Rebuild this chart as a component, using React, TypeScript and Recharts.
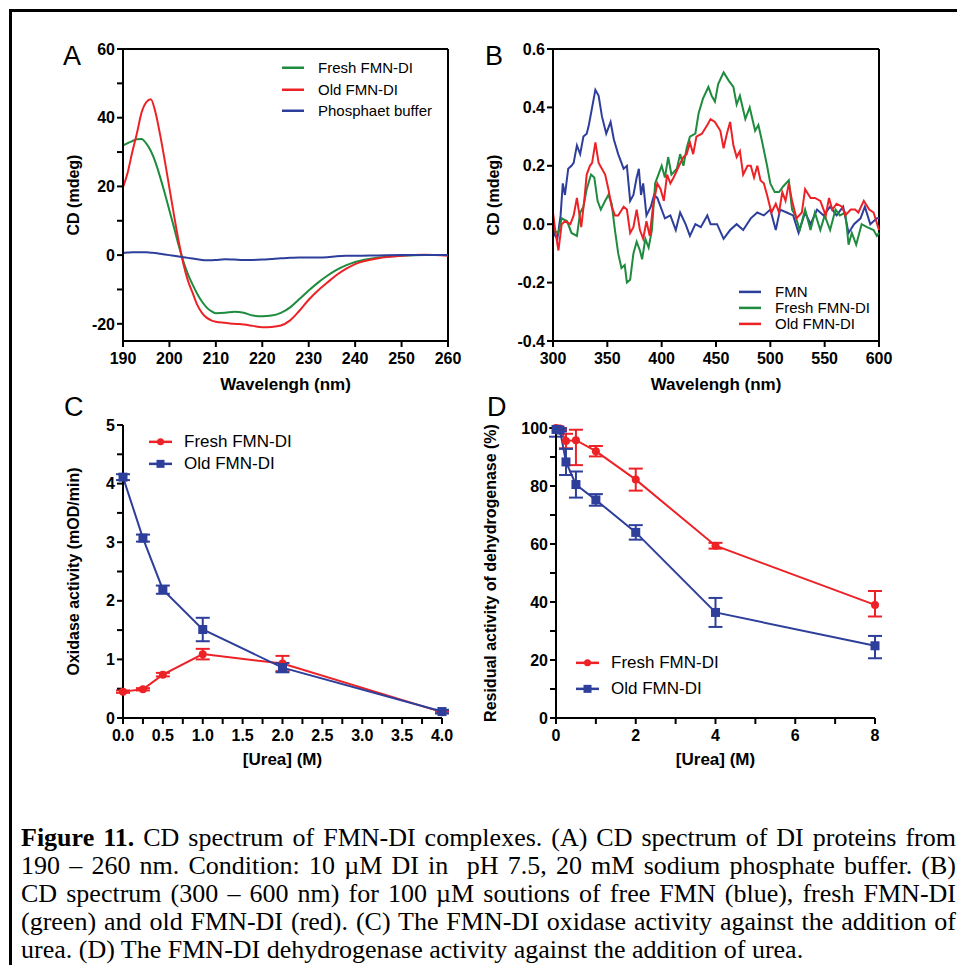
import React from 'react';
import { LineChart, Line, XAxis, YAxis, Legend, ReferenceLine, ErrorBar } from 'recharts';

const SANS = '"Liberation Sans", Arial, Helvetica, sans-serif';
const SERIF = '"Liberation Serif", "Times New Roman", serif';

const GREEN = '#1f8b3e';
const RED = '#ec2227';
const BLUE = '#2d3e9b';

// ---- panel A: far-UV CD (190-260 nm) ----
const wlA = [190, 191, 192, 193, 194, 195, 196, 197, 198, 199, 200, 201, 202, 203, 204, 205, 206, 207, 208, 209, 210,
  212, 214, 216, 218, 220, 222, 224, 226, 228, 230, 232, 234, 236, 238, 240, 245, 250, 255, 260];
const freshA = [31.9, 32.6, 33.2, 33.7, 33.8, 32.5, 30.3, 27.0, 22.7, 18.0, 13.0, 8.0, 2.8, -1.8, -5.6, -8.6, -11.3, -13.5, -15.2, -16.3, -16.9,
  -16.8, -16.5, -16.8, -17.6, -17.8, -17.6, -16.8, -15.2, -12.8, -10.3, -8.0, -6.0, -4.3, -3.0, -2.0, -0.7, -0.2, 0, 0];
const oldA = [19.8, 24.0, 30.0, 35.5, 41.5, 44.5, 45.4, 41.5, 35.0, 27.5, 19.5, 11.5, 4.0, -2.5, -7.5, -11.0, -14.5, -16.8, -18.2, -19.0, -19.4,
  -19.7, -20.0, -20.2, -20.6, -21.0, -20.9, -20.5, -19.0, -16.2, -13.0, -10.3, -8.0, -5.8, -4.0, -2.6, -0.9, -0.2, 0.1, -0.2];
const bufferA = [0.7, 0.75, 0.8, 0.8, 0.8, 0.8, 0.7, 0.6, 0.4, 0.2, 0, -0.2, -0.4, -0.6, -0.8, -1.0, -1.2, -1.4, -1.5, -1.5, -1.4,
  -1.2, -1.3, -1.4, -1.4, -1.3, -1.1, -0.9, -0.8, -0.7, -0.7, -0.7, -0.6, -0.3, -0.2, -0.2, -0.1, 0, 0, 0];
const xTicksA = [190, 200, 210, 220, 230, 240, 250, 260];
const yTicksA = [-20, -10, 0, 10, 20, 30, 40, 50, 60];

// ---- panel B: visible CD (300-600 nm) ----
const wlFmnB = [300, 302, 304, 307, 309, 311, 314, 317, 319, 322, 325, 328, 331, 333, 336, 339, 342, 345, 349, 353, 356, 360, 365, 368,
  371, 374, 377, 379, 381, 383, 386, 390, 393, 396, 400, 403, 408, 413, 417, 422, 426, 431, 436, 442, 445, 451, 457, 463, 469, 475,
  482, 488, 494, 500, 505, 509, 515, 521, 526, 532, 537, 543, 549, 555, 561, 567, 572, 577, 583, 587, 592, 598, 600];
const cdFmnB = [-0.02, -0.04, -0.05, 0.03, 0.14, 0.10, 0.19, 0.20, 0.21, 0.27, 0.24, 0.30, 0.31, 0.34, 0.40, 0.46, 0.44, 0.37, 0.31, 0.35,
  0.29, 0.24, 0.19, 0.20, 0.08, 0.10, 0.16, 0.19, 0.10, 0.14, 0.03, 0.06, 0.10, 0.09, 0.05, 0.02, 0.03, -0.02, 0.04, 0.00, -0.04, 0.00,
  -0.01, 0.03, 0.00, 0.00, -0.05, -0.02, 0.00, -0.02, 0.02, 0.04, 0.03, 0.05, -0.02, 0.05, 0.04, 0.03, -0.03, 0.04, 0.00, 0.05, 0.03,
  0.06, 0.03, 0.06, -0.03, 0.00, 0.02, 0.06, 0.00, 0.02, 0.02];
const wlFreshB = [300, 305, 308, 313, 317, 322, 325, 328, 331, 335, 338, 341, 344, 348, 351, 354, 357, 360, 363, 366, 368, 371, 374, 377,
  380, 382, 385, 388, 391, 394, 397, 400, 403, 406, 409, 414, 417, 420, 423, 426, 431, 434, 438, 443, 446, 449, 452, 457, 462, 466,
  469, 472, 477, 481, 486, 489, 492, 497, 500, 504, 508, 512, 517, 520, 523, 527, 532, 537, 541, 546, 550, 555, 560, 564, 569, 572,
  575, 579, 584, 589, 595, 598, 600];
const cdFreshB = [-0.02, -0.03, 0.02, 0.01, -0.03, -0.04, 0.04, 0.06, 0.12, 0.17, 0.16, 0.08, 0.05, 0.08, 0.10, 0.07, -0.02, -0.10, -0.15,
  -0.14, -0.20, -0.19, -0.10, -0.06, -0.09, -0.12, -0.05, -0.08, -0.02, 0.14, 0.17, 0.20, 0.16, 0.23, 0.17, 0.19, 0.24, 0.20, 0.26,
  0.30, 0.31, 0.38, 0.43, 0.47, 0.44, 0.42, 0.48, 0.52, 0.49, 0.47, 0.41, 0.44, 0.36, 0.40, 0.32, 0.34, 0.29, 0.20, 0.14, 0.11, 0.11,
  0.13, 0.15, 0.05, 0.03, -0.02, 0.05, -0.02, 0.04, -0.02, 0.03, -0.02, 0.05, 0.03, 0.04, -0.07, -0.03, -0.07, 0.00, -0.01, -0.02,
  -0.04, -0.03];
const wlOldB = [300, 302, 305, 308, 311, 316, 319, 322, 326, 329, 331, 334, 336, 339, 342, 345, 348, 351, 354, 357, 360, 365, 368, 371,
  374, 377, 380, 383, 386, 389, 392, 396, 399, 402, 405, 408, 411, 416, 420, 423, 426, 429, 432, 437, 442, 445, 449, 454, 457, 460,
  463, 466, 469, 472, 475, 479, 482, 485, 488, 491, 494, 497, 501, 505, 508, 511, 514, 517, 520, 524, 529, 532, 537, 541, 546, 551,
  554, 557, 561, 566, 569, 574, 578, 581, 586, 591, 595, 600];
const cdOldB = [0.04, -0.02, -0.09, 0.00, 0.01, 0.00, 0.03, 0.09, -0.01, 0.09, 0.17, 0.20, 0.21, 0.28, 0.21, 0.19, 0.17, 0.12, 0.06, 0.03,
  0.03, 0.06, 0.05, -0.03, -0.01, 0.05, -0.02, -0.05, 0.01, -0.04, 0.06, 0.14, 0.12, 0.08, 0.17, 0.14, 0.16, 0.20, 0.23, 0.24, 0.28,
  0.24, 0.30, 0.31, 0.34, 0.36, 0.35, 0.32, 0.26, 0.31, 0.35, 0.27, 0.23, 0.25, 0.17, 0.20, 0.20, 0.16, 0.20, 0.15, 0.14, 0.10, 0.04,
  0.07, 0.04, 0.11, 0.08, 0.14, 0.08, 0.02, 0.04, 0.12, 0.09, 0.09, 0.08, 0.03, 0.09, 0.05, 0.07, 0.06, 0.03, 0.05, 0.05, 0.04, 0.08,
  0.05, 0.04, -0.02];
const xTicksB = [300, 350, 400, 450, 500, 550, 600];
const yTicksB = [-0.4, -0.2, 0, 0.2, 0.4, 0.6];

// ---- panel C: oxidase activity vs urea ----
const ureaC = [0, 0.25, 0.5, 1, 2, 4];
const freshC = [0.45, 0.49, 0.74, 1.09, 0.93, 0.1];
const freshErrC = [0.02, 0.02, 0.03, 0.09, 0.13, 0.02];
const oldC = [4.11, 3.07, 2.19, 1.51, 0.86, 0.11];
const oldErrC = [0.05, 0.06, 0.07, 0.2, 0.08, 0.03];
const xTicksC = [0, 0.25, 0.5, 0.75, 1, 1.25, 1.5, 1.75, 2, 2.25, 2.5, 2.75, 3, 3.25, 3.5, 3.75, 4];
const yTicksC = [0, 0.5, 1, 1.5, 2, 2.5, 3, 3.5, 4, 4.5, 5];

// ---- panel D: residual dehydrogenase activity vs urea ----
const ureaD = [0, 0.1, 0.25, 0.5, 1, 2, 4, 8];
const freshD = [100, 99.8, 95.5, 95.8, 92.0, 82.2, 59.4, 39.0];
const freshErrD: [number, number][] = [[0, 0], [0.5, 0.2], [2.5, 2.5], [8.6, 3.6], [1.8, 1.8], [3.8, 3.8], [1, 1], [4, 4.8]];
const oldD = [99.5, 99.3, 88.3, 80.5, 75.2, 64.0, 36.4, 24.9];
const oldErrD: [number, number][] = [[2.5, 0.5], [0.5, 0.5], [4.5, 4.5], [4.5, 4.5], [2, 2], [2.5, 2.5], [5, 5], [4.3, 3.4]];
const xTicksD = [0, 1, 2, 3, 4, 5, 6, 7, 8];
const yTicksD = [0, 10, 20, 30, 40, 50, 60, 70, 80, 90, 100];

const captionLines: [string, string][] = [
  ['Figure 11.', ' CD spectrum of FMN-DI complexes. (A) CD spectrum of DI proteins from'],
  ['', '190 \u2013 260 nm. Condition: 10 \u00b5M DI in\u00a0 pH 7.5, 20 mM sodium phosphate buffer. (B)'],
  ['', 'CD spectrum (300 \u2013 600 nm) for 100 \u00b5M soutions of free FMN (blue), fresh FMN-DI'],
  ['', '(green) and old FMN-DI (red). (C) The FMN-DI oxidase activity against the addition of'],
  ['', 'urea. (D) The FMN-DI dehydrogenase activity against the addition of urea.'],
];

const zip = (xs: number[], ys: number[]) => xs.map((x, i) => ({ x, y: ys[i] }));

const dataA = wlA.map((x, i) => ({ x, fresh: freshA[i], old: oldA[i], buffer: bufferA[i] }));
const dataC = ureaC.map((x, i) => ({ x, fresh: freshC[i], freshErr: freshErrC[i], old: oldC[i], oldErr: oldErrC[i] }));
const dataD = ureaD.map((x, i) => ({ x, fresh: freshD[i], freshErr: freshErrD[i], old: oldD[i], oldErr: oldErrD[i] }));

const axisLine = { stroke: '#000', strokeWidth: 2 };
const tickLine = { stroke: '#000', strokeWidth: 2 };
const tickStyle = { fill: '#000', fontSize: 16, fontWeight: 700, fontFamily: SANS };

const yTitle = (text: string, cx: number) => (props: any) => {
  const vb = props.viewBox;
  const cy = vb.y + vb.height / 2;
  return (
    <text x={cx} y={cy} transform={`rotate(-90 ${cx} ${cy})`} textAnchor="middle" dominantBaseline="central"
      fontFamily={SANS} fontSize={16} fontWeight={700} fill="#000">{text}</text>
  );
};

const xTitle = (text: string, dy: number) => (props: any) => {
  const vb = props.viewBox;
  return (
    <text x={vb.x + vb.width / 2} y={vb.y + dy} textAnchor="middle"
      fontFamily={SANS} fontSize={17} fontWeight={700} fill="#000">{text}</text>
  );
};

const legendContent = (lineLen: number, gap: number, rowH: number, fontSize: number) => (props: any) => (
  <div style={{ fontFamily: SANS, fontSize, color: '#000' }}>
    {(props.payload || []).map((e: any) => (
      <div key={e.value} style={{ display: 'flex', alignItems: 'center', height: rowH }}>
        <svg width={lineLen + gap} height={rowH} style={{ display: 'block' }}>
          <line x1={0} x2={lineLen} y1={rowH / 2} y2={rowH / 2} stroke={e.color} strokeWidth={2.5} />
          {e.type === 'circle' && <circle cx={lineLen / 2} cy={rowH / 2} r={3.5} fill={e.color} />}
          {e.type === 'square' && <rect x={lineLen / 2 - 4} y={rowH / 2 - 4} width={8} height={8} fill={e.color} />}
        </svg>
        <span style={{ whiteSpace: 'nowrap', lineHeight: 1 }}>{e.value}</span>
      </div>
    ))}
  </div>
);

const squareDot = (props: any) => (
  <rect key={`sq-${props.index}`} x={props.cx - 4.5} y={props.cy - 4.5} width={9} height={9} fill={BLUE} />
);

function PanelA() {
  return (
    <LineChart width={480} height={400} data={dataA} margin={{ top: 49, right: 32, left: 0, bottom: 0 }}>
      <XAxis dataKey="x" type="number" domain={[190, 260]} ticks={xTicksA} height={59}
        axisLine={axisLine} tickLine={tickLine} tick={tickStyle} tickSize={6} tickMargin={6}
        label={xTitle('Wavelengh (nm)', 49)} />
      <YAxis type="number" domain={[-25, 60]} ticks={yTicksA} width={123}
        tickFormatter={(v: number) => (v % 20 === 0 ? String(v) : '')}
        axisLine={axisLine} tickLine={tickLine} tick={tickStyle} tickSize={6} tickMargin={2}
        label={yTitle('CD (mdeg)', 73)} />
      <ReferenceLine y={60} stroke="#000" strokeWidth={2} />
      <ReferenceLine x={260} stroke="#000" strokeWidth={2} />
      <Line dataKey="fresh" name="Fresh FMN-DI" type="monotone" stroke={GREEN} strokeWidth={2} dot={false}
        legendType="line" isAnimationActive={false} />
      <Line dataKey="old" name="Old FMN-DI" type="monotone" stroke={RED} strokeWidth={2} dot={false}
        legendType="line" isAnimationActive={false} />
      <Line dataKey="buffer" name="Phosphaet buffer" type="monotone" stroke={BLUE} strokeWidth={2} dot={false}
        legendType="line" isAnimationActive={false} />
      <Legend layout="vertical" align="center" verticalAlign="middle"
        wrapperStyle={{ left: 282, top: 57, width: 'auto' }} content={legendContent(22, 14, 21.5, 15)} />
    </LineChart>
  );
}

function PanelB() {
  return (
    <LineChart width={480} height={400} margin={{ top: 49, right: 78, left: 0, bottom: 0 }}>
      <XAxis dataKey="x" type="number" domain={[300, 600]} ticks={xTicksB} height={59}
        axisLine={axisLine} tickLine={tickLine} tick={tickStyle} tickSize={6} tickMargin={6}
        label={xTitle('Wavelengh (nm)', 49)} />
      <YAxis type="number" domain={[-0.4, 0.6]} ticks={yTicksB} width={76}
        tickFormatter={(v: number) => v.toFixed(1)}
        axisLine={axisLine} tickLine={tickLine} tick={tickStyle} tickSize={6} tickMargin={2}
        label={yTitle('CD (mdeg)', 16)} />
      <ReferenceLine y={0.6} stroke="#000" strokeWidth={2} />
      <ReferenceLine x={600} stroke="#000" strokeWidth={2} />
      <Line data={zip(wlFmnB, cdFmnB)} dataKey="y" name="FMN" type="linear" stroke={BLUE} strokeWidth={2}
        dot={false} legendType="line" isAnimationActive={false} />
      <Line data={zip(wlFreshB, cdFreshB)} dataKey="y" name="Fresh FMN-DI" type="linear" stroke={GREEN} strokeWidth={2}
        dot={false} legendType="line" isAnimationActive={false} />
      <Line data={zip(wlOldB, cdOldB)} dataKey="y" name="Old FMN-DI" type="linear" stroke={RED} strokeWidth={2}
        dot={false} legendType="line" isAnimationActive={false} />
      <Legend layout="vertical" align="center" verticalAlign="middle"
        wrapperStyle={{ left: 262, top: 284, width: 'auto' }} content={legendContent(22, 14, 15.8, 15)} />
    </LineChart>
  );
}

function PanelC() {
  return (
    <LineChart width={480} height={390} data={dataC} margin={{ top: 35, right: 38, left: 0, bottom: 0 }}>
      <XAxis dataKey="x" type="number" domain={[0, 4]} ticks={xTicksC} height={62}
        tickFormatter={(v: number) => (Number.isInteger(v * 2) ? v.toFixed(1) : '')}
        axisLine={axisLine} tickLine={tickLine} tick={tickStyle} tickSize={6} tickMargin={6}
        label={xTitle('[Urea] (M)', 47)} />
      <YAxis type="number" domain={[0, 5]} ticks={yTicksC} width={123}
        tickFormatter={(v: number) => (Number.isInteger(v) ? String(v) : '')}
        axisLine={axisLine} tickLine={tickLine} tick={tickStyle} tickSize={6} tickMargin={2}
        label={yTitle('Oxidase activity (mOD/min)', 73)} />
      <Line dataKey="fresh" name="Fresh FMN-DI" type="linear" stroke={RED} strokeWidth={2}
        dot={{ r: 4, fill: RED, stroke: RED, strokeWidth: 0 }} legendType="circle" isAnimationActive={false}>
        <ErrorBar dataKey="freshErr" direction="y" width={7} stroke={RED} strokeWidth={2} />
      </Line>
      <Line dataKey="old" name="Old FMN-DI" type="linear" stroke={BLUE} strokeWidth={2}
        dot={squareDot} legendType="square" isAnimationActive={false}>
        <ErrorBar dataKey="oldErr" direction="y" width={7} stroke={BLUE} strokeWidth={2} />
      </Line>
      <Legend layout="vertical" align="center" verticalAlign="middle"
        wrapperStyle={{ left: 149, top: 41, width: 'auto' }} content={legendContent(23, 12, 21.7, 17)} />
    </LineChart>
  );
}

function PanelD() {
  return (
    <LineChart width={480} height={390} data={dataD} margin={{ top: 38, right: 82, left: 0, bottom: 0 }}>
      <XAxis dataKey="x" type="number" domain={[0, 8]} ticks={xTicksD} height={62}
        tickFormatter={(v: number) => (v % 2 === 0 ? String(v) : '')}
        axisLine={axisLine} tickLine={tickLine} tick={tickStyle} tickSize={6} tickMargin={6}
        label={xTitle('[Urea] (M)', 47)} />
      <YAxis type="number" domain={[0, 100]} ticks={yTicksD} width={79}
        tickFormatter={(v: number) => (v % 20 === 0 ? String(v) : '')}
        axisLine={axisLine} tickLine={tickLine} tick={tickStyle} tickSize={6} tickMargin={2}
        label={yTitle('Residual activity of dehydrogenase (%)', 13)} />
      <Line dataKey="fresh" name="Fresh FMN-DI" type="linear" stroke={RED} strokeWidth={2}
        dot={{ r: 4, fill: RED, stroke: RED, strokeWidth: 0 }} legendType="circle" isAnimationActive={false}>
        <ErrorBar dataKey="freshErr" direction="y" width={7} stroke={RED} strokeWidth={2} />
      </Line>
      <Line dataKey="old" name="Old FMN-DI" type="linear" stroke={BLUE} strokeWidth={2}
        dot={squareDot} legendType="square" isAnimationActive={false}>
        <ErrorBar dataKey="oldErr" direction="y" width={7} stroke={BLUE} strokeWidth={2} />
      </Line>
      <Legend layout="vertical" align="center" verticalAlign="middle"
        wrapperStyle={{ left: 99, top: 260, width: 'auto' }} content={legendContent(23, 12, 25.7, 17)} />
    </LineChart>
  );
}

export default function App() {
  const place = (left: number, top: number): React.CSSProperties => ({ position: 'absolute', left, top });
  return (
    <div style={{ position: 'absolute', left: 0, top: 0, width: 957, height: 965, background: '#fff', overflow: 'hidden' }}>
      {/* figure frame: only top and left edges are visible in the crop */}
      <div style={{ position: 'absolute', left: 9, top: 9, width: 960, height: 970, borderLeft: '3px solid #000', borderTop: '3px solid #000' }} />
      <div style={place(0, 0)}><PanelA /></div>
      <div style={place(477, 0)}><PanelB /></div>
      <div style={place(0, 390)}><PanelC /></div>
      <div style={place(477, 390)}><PanelD /></div>
      <svg width={957} height={965} style={{ position: 'absolute', left: 0, top: 0, pointerEvents: 'none' }}>
        <g fontFamily={SANS} fontSize={27} fill="#000">
          <text x={63} y={65}>A</text>
          <text x={485} y={65}>B</text>
          <text x={64} y={416}>C</text>
          <text x={487} y={416}>D</text>
        </g>
      </svg>
      <div style={{ position: 'absolute', left: 21, top: 824, width: 935, fontFamily: SERIF, fontSize: 26, lineHeight: '28px', color: '#000' }}>
        {captionLines.map(([bold, rest], i) => (
          <div key={i} style={{ textAlign: 'justify', textAlignLast: i < captionLines.length - 1 ? 'justify' : 'left', height: 28 }}>
            {bold && <b>{bold}</b>}{rest}
          </div>
        ))}
      </div>
    </div>
  );
}
